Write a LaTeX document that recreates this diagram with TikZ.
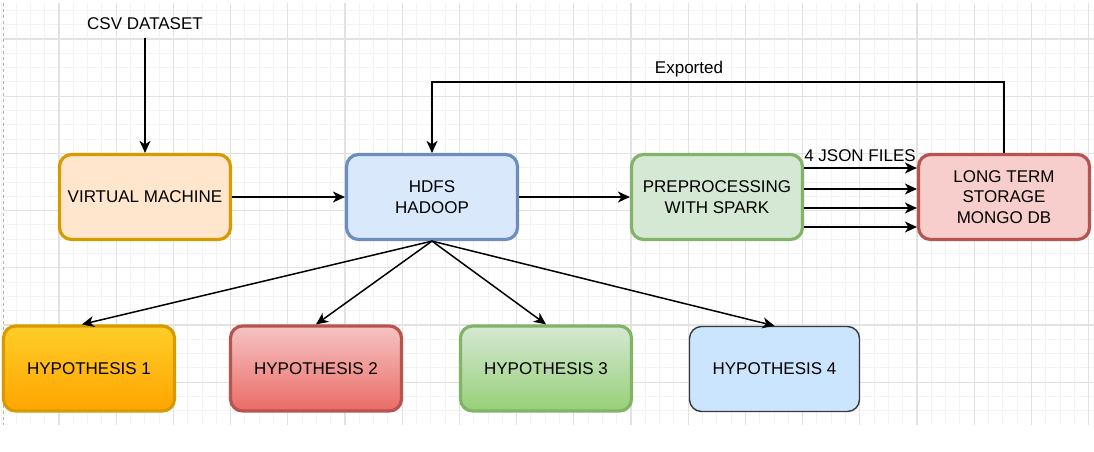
\documentclass[tikz,border=0pt]{standalone}
\usepackage{fontspec}
\setmainfont{Liberation Sans}
\usetikzlibrary{arrows.meta}
\definecolor{gridminor}{HTML}{F3F3F3}
\definecolor{gridmajor}{HTML}{E2E2E2}
\definecolor{vmfill}{HTML}{FFE6CC}
\definecolor{vmdraw}{HTML}{D79B00}
\definecolor{hdfsfill}{HTML}{DAE8FC}
\definecolor{hdfsdraw}{HTML}{6C8EBF}
\definecolor{sparkfill}{HTML}{D5E8D4}
\definecolor{sparkdraw}{HTML}{82B366}
\definecolor{mongofill}{HTML}{F8CECC}
\definecolor{mongodraw}{HTML}{B85450}
\definecolor{hAtop}{HTML}{FFCD28}
\definecolor{hAbot}{HTML}{FFA500}
\definecolor{hBtop}{HTML}{F5C4C3}
\definecolor{hBbot}{HTML}{EA6B66}
\definecolor{hCtop}{HTML}{D5E8D4}
\definecolor{hCbot}{HTML}{97D077}
\definecolor{hDfill}{HTML}{CCE5FF}
\definecolor{hDdraw}{HTML}{36393D}
\begin{document}
\begin{tikzpicture}[x=1pt,y=-1pt]
    \tikzset{block/.style={rectangle, draw, rounded corners=12pt, line width=3.2pt, minimum width=171pt, minimum height=85pt, inner sep=0pt, align=center, font=\fontsize{17}{20.5}\selectfont}}
    \tikzset{label/.style={font=\fontsize{17}{20.5}\selectfont}}
    \tikzset{line/.style={draw, line width=1.5pt, -{Stealth[length=12pt,width=11pt,inset=3.5pt]}}}
    \tikzset{minorgrid/.style={draw=gridminor, line width=0.9pt}}
    \tikzset{majorgrid/.style={draw=gridmajor, line width=1.1pt}}
    \useasboundingbox (0,0) rectangle (1094,452);

    % grid
    \foreach \k in {0,...,76}
        \draw[minorgrid] ({1.8+14.3*\k},3) -- ({1.8+14.3*\k},425);
    \foreach \k in {0,...,28}
        \draw[minorgrid] (3,{10.4+14.3*\k}) -- (1094,{10.4+14.3*\k});
    \foreach \k in {1,...,19}
        \draw[majorgrid] ({1.8+57.2*\k},3) -- ({1.8+57.2*\k},425);
    \foreach \k in {0,...,6}
        \draw[majorgrid] (3,{39+57.2*\k}) -- (1094,{39+57.2*\k});
    \draw[draw=gray!60, line width=1pt, dash pattern=on 3pt off 3pt] (3,3) -- (3,425);

    \node[label] (csv) at (145,24) {CSV DATASET};
    \node[block, fill=vmfill, draw=vmdraw] (vm) at (145,197) {VIRTUAL MACHINE};
    \node[block, fill=hdfsfill, draw=hdfsdraw] (hdfs) at (432,197) {HDFS\\HADOOP};
    \node[block, fill=sparkfill, draw=sparkdraw] (spark) at (717,197) {PREPROCESSING\\WITH SPARK};
    \node[block, fill=mongofill, draw=mongodraw] (mongo) at (1004,197) {LONG TERM\\STORAGE\\MONGO DB};
    \node[label] (json) at (860,156) {4 JSON FILES};
    \node[label] (exported) at (689,69) {Exported};

    \node[block, top color=hAtop, bottom color=hAbot, draw=vmdraw] (h1) at (89,368.5) {HYPOTHESIS 1};
    \node[block, top color=hBtop, bottom color=hBbot, draw=mongodraw] (h2) at (316,368.5) {HYPOTHESIS 2};
    \node[block, top color=hCtop, bottom color=hCbot, draw=sparkdraw] (h3) at (546,368.5) {HYPOTHESIS 3};
    \node[block, fill=hDfill, draw=hDdraw, line width=1.4pt, minimum width=170pt] (h4) at (774.5,369) {HYPOTHESIS 4};

    \draw[line, shorten <=4pt] (csv) -- (vm);
    \draw[line] (vm) -- (hdfs);
    \draw[line] (hdfs) -- (spark);
    \foreach \y in {168,189,208,227}
        \draw[line] (spark.east |- 0,\y) -- (mongo.west |- 0,\y);
    \draw[line] (mongo.north) -- ++(0,-71) -| (hdfs.north);
    \draw[line] (hdfs.south) -- ([xshift=-7pt]h1.north);
    \draw[line] (hdfs.south) -- (h2.north);
    \draw[line] (hdfs.south) -- (h3.north);
    \draw[line] (hdfs.south) -- (h4.north);
\end{tikzpicture}
\end{document}
